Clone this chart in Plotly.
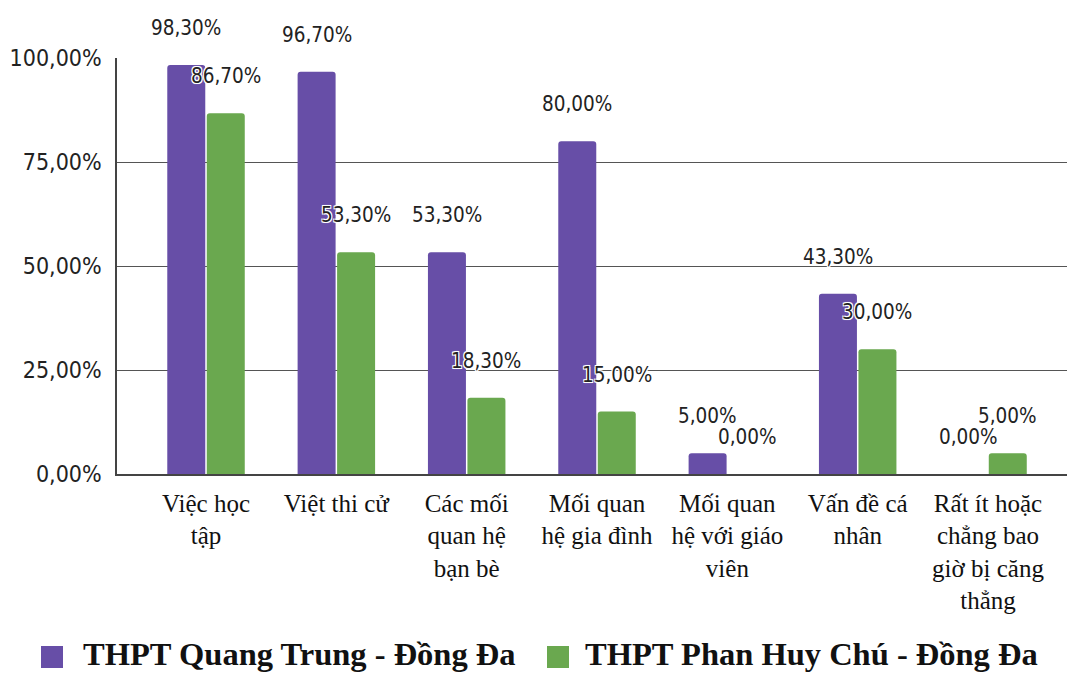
import plotly.graph_objects as go

# Survey data: sources of stress reported by students at two schools
categories = [
    "Việc học tập",
    "Việt thi cử",
    "Các mối quan hệ bạn bè",
    "Mối quan hệ gia đình",
    "Mối quan hệ với giáo viên",
    "Vấn đề cá nhân",
    "Rất ít hoặc chẳng bao giờ bị căng thẳng",
]
tick_labels = [
    "Việc học<br>tập",
    "Việt thi cử",
    "Các mối<br>quan hệ<br>bạn bè",
    "Mối quan<br>hệ gia đình",
    "Mối quan<br>hệ với giáo<br>viên",
    "Vấn đề cá<br>nhân",
    "Rất ít hoặc<br>chẳng bao<br>giờ bị căng<br>thẳng",
]
series_names = ["THPT Quang Trung - Đồng Đa", "THPT Phan Huy Chú - Đồng Đa"]
quang_trung = [0.983, 0.967, 0.533, 0.800, 0.050, 0.433, 0.000]
phan_huy_chu = [0.867, 0.533, 0.183, 0.150, 0.000, 0.300, 0.050]
y_ticks = [0, 0.25, 0.5, 0.75, 1.0]

colors = ["#674EA7", "#6AA84F"]

W, H = 1067, 673
ML, MR, MT, MB = 117, 0, 58, 199
PW, PH = W - ML - MR, H - MT - MB

x_idx = list(range(len(categories)))

fig = go.Figure()
for name, vals, col in zip(series_names, [quang_trung, phan_huy_chu], colors):
    fig.add_trace(go.Bar(
        x=x_idx, y=vals, name=name,
        marker=dict(color=col, cornerradius=3, line=dict(width=0)),
        hovertext=categories, showlegend=False,
    ))

label_font = dict(
    family="DejaVu Sans Condensed, DejaVu Sans, sans-serif", size=20.5, color="#222",
    shadow="-1px -1px 0 #fff, 1px -1px 0 #fff, -1px 1px 0 #fff, 1px 1px 0 #fff, 0 0 2px #fff",
)

# value labels above each bar, shifted onto the bar within its group
annotations = []
for vals, shift in [(quang_trung, -19.75), (phan_huy_chu, 19.75)]:
    for i, v in enumerate(vals):
        annotations.append(dict(
            x=i, y=v, xref="x", yref="y", xshift=shift, yshift=37,
            text=f"{v * 100:.2f}%".replace(".", ","),
            showarrow=False, font=label_font, xanchor="center", yanchor="middle",
        ))


def px_x(px):
    return (px - ML) / PW


def px_y(py):
    return (H - MB - py) / PH


# legend drawn as squares + bold serif labels below the plot
legend_items = [(41, 81), (547, 583)]
shapes = []
for (sq_x, tx_x), name, col in zip(legend_items, series_names, colors):
    shapes.append(dict(
        type="rect", xref="paper", yref="paper",
        x0=px_x(sq_x), x1=px_x(sq_x + 22), y0=px_y(668), y1=px_y(646),
        fillcolor=col, line=dict(width=0),
    ))
    annotations.append(dict(
        x=px_x(tx_x), y=px_y(654), xref="paper", yref="paper",
        text=f"<b>{name}</b>", showarrow=False, xanchor="left", yanchor="middle",
        font=dict(family="Liberation Serif, Times New Roman, serif", size=32.5, color="#111"),
    ))

fig.update_layout(
    width=W, height=H,
    margin=dict(l=ML, r=MR, t=MT, b=MB, pad=0),
    paper_bgcolor="white", plot_bgcolor="white",
    separators=",.",
    barmode="group", bargap=0.394, bargroupgap=0.038,
    annotations=annotations, shapes=shapes,
    showlegend=False,
    xaxis=dict(
        range=[-0.683, 6.606], tickmode="array", tickvals=x_idx, ticktext=tick_labels,
        showgrid=False, showline=True, linecolor="#444", linewidth=1.5, ticks="",
        ticklabelstandoff=6,
        tickfont=dict(family="Liberation Serif, Times New Roman, serif", size=25, color="#111"),
    ),
    yaxis=dict(
        range=[0, 1], tickmode="array", tickvals=y_ticks, tickformat=".2%",
        showgrid=True, gridcolor="#555", gridwidth=1.3,
        zeroline=False, showline=True, linecolor="#444", linewidth=1.5, ticks="",
        ticklabelstandoff=9,
        tickfont=dict(family="DejaVu Sans Condensed, DejaVu Sans, sans-serif", size=23, color="#222"),
    ),
)

fig.write_html("out.html")
